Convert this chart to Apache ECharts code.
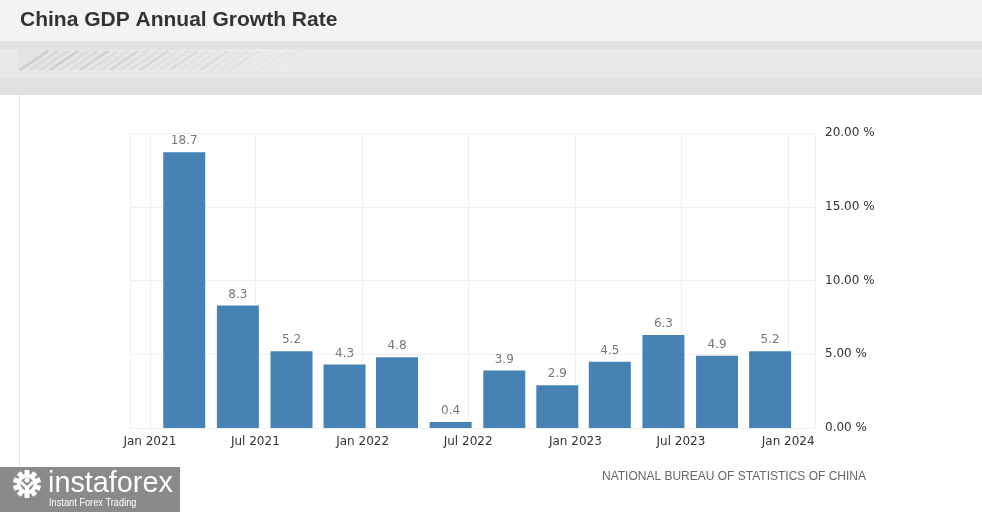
<!DOCTYPE html>
<html>
<head>
<meta charset="utf-8">
<script src="https://cdn.jsdelivr.net/npm/echarts@6/dist/echarts.min.js"></script>
<style>
  html, body { margin: 0; padding: 0; background: #fff; }
  #chart { width: 982px; height: 512px; }
</style>
</head>
<body>
<div id="chart"></div>
<script>
// quarterly readings, placed where the bars sit on the time axis
var quarters = ['2021-03-01', '2021-06-01', '2021-09-01', '2021-12-01',
                '2022-03-01', '2022-06-01', '2022-09-01', '2022-12-01',
                '2023-03-01', '2023-06-01', '2023-09-01', '2023-12-01'];
var growth = [18.7, 8.3, 5.2, 4.3, 4.8, 0.4, 3.9, 2.9, 4.5, 6.3, 4.9, 5.2];
var yTicks = [0, 5, 10, 15, 20];
var monthNames = ['Jan', 'Feb', 'Mar', 'Apr', 'May', 'Jun', 'Jul', 'Aug', 'Sep', 'Oct', 'Nov', 'Dec'];

var DAY = 24 * 3600 * 1000;
// echarts widens a bar axis by half a bar on each side (~36 days here),
// so the range is pulled in by that much: final view ~ late Nov 2020 .. mid Feb 2024
var xMin = Date.UTC(2021, 0, 1) + 2 * DAY;
var xMax = Date.UTC(2024, 0, 1) + 10 * DAY;

var chart = echarts.init(document.getElementById('chart'));

var data = quarters.map(function (q, i) {
  return [q, growth[i]];
});

// soft diagonal streaks in the header strip
var streaks = [];
for (var i = 0; i < 26; i++) {
  var x0 = 20 + i * 10;
  streaks.push({
    type: 'line',
    shape: { x1: x0, y1: 70, x2: x0 + 28, y2: 51 },
    style: { stroke: i % 3 === 0 ? '#c9c9c9' : '#d8d8d8', lineWidth: 2.5, opacity: 0.9 - i / 32 },
    silent: true
  });
}

// gear teeth for the badge
var teeth = [];
for (var k = 0; k < 10; k++) {
  var a = k * Math.PI / 5;
  teeth.push({
    type: 'rect',
    shape: { x: -2.5, y: -14, width: 5, height: 6 },
    x: 27, y: 484, rotation: a,
    style: { fill: '#fff' }, silent: true
  });
}

var option = {
  useUTC: true,
  animation: false,
  backgroundColor: '#ffffff',
  textStyle: { fontFamily: 'DejaVu Sans' },
  grid: { left: 130, right: 167, top: 133, bottom: 84 },
  xAxis: {
    type: 'time',
    min: xMin,
    max: xMax,
    minInterval: 181 * DAY,
    maxInterval: 184 * DAY,
    axisLine: { show: false },
    axisTick: { show: false },
    splitLine: { show: true, lineStyle: { color: '#efefef' } },
    axisLabel: {
      color: '#333',
      fontSize: 12,
      margin: 8,
      showMinLabel: false,
      showMaxLabel: false,
      formatter: function (v) {
        var d = new Date(v);
        return monthNames[d.getUTCMonth()] + ' ' + d.getUTCFullYear();
      }
    }
  },
  yAxis: {
    type: 'value',
    position: 'right',
    min: yTicks[0],
    max: yTicks[yTicks.length - 1],
    interval: 5,
    axisLine: { show: false },
    axisTick: { show: false },
    splitLine: { lineStyle: { color: '#efefef' } },
    axisLabel: {
      color: '#333',
      fontSize: 12,
      margin: 10,
      formatter: function (v) { return v.toFixed(2) + ' %'; }
    }
  },
  series: [{
    type: 'bar',
    data: data,
    barWidth: 42,
    itemStyle: { color: '#4682b4' },
    label: {
      show: true,
      position: 'top',
      distance: 5,
      color: '#777',
      fontSize: 12,
      formatter: function (p) { return p.value[1].toFixed(1); }
    }
  }],
  graphic: [
    { type: 'rect', shape: { x: 0, y: 0, width: 982, height: 41 }, style: { fill: '#f4f4f4' }, silent: true },
    { type: 'rect', shape: { x: 0, y: 41, width: 982, height: 54 }, style: { fill: '#e1e1e1' }, silent: true },
    { type: 'rect', shape: { x: 0, y: 49, width: 982, height: 29 }, style: { fill: '#e9e9e9' }, silent: true },
    {
      type: 'rect', shape: { x: 18, y: 49, width: 270, height: 21 },
      style: {
        fill: new echarts.graphic.LinearGradient(0, 0, 1, 0, [
          { offset: 0, color: '#e4e4e4' }, { offset: 1, color: '#ebebeb' }
        ])
      },
      silent: true
    },
    { type: 'group', children: streaks },
    {
      type: 'text', left: 20, top: 10,
      style: { text: 'China GDP Annual Growth Rate', fill: '#333', font: 'bold 21px "Liberation Sans", Arial, sans-serif' }
    },
    { type: 'line', shape: { x1: 19.5, y1: 95, x2: 19.5, y2: 468 }, style: { stroke: '#e6e6e6', lineWidth: 1 }, silent: true },
    {
      type: 'text', right: 116, top: 471,
      style: { text: 'NATIONAL BUREAU OF STATISTICS OF CHINA', fill: '#666', font: '12px "Liberation Sans", Arial, sans-serif' }
    },
    // instaforex badge
    { type: 'rect', shape: { x: 0, y: 467, width: 180, height: 45 }, style: { fill: '#8a8a8a' }, silent: true },
    { type: 'group', children: teeth },
    { type: 'circle', shape: { cx: 27, cy: 484, r: 10 }, style: { fill: '#fff' }, silent: true },
    { type: 'circle', shape: { cx: 27, cy: 484, r: 6.5 }, style: { fill: '#8a8a8a' }, silent: true },
    { type: 'circle', shape: { cx: 27, cy: 480, r: 2.5 }, style: { fill: '#fff' }, silent: true },
    {
      type: 'polyline',
      shape: { points: [[21, 482], [27, 488], [33, 482]] },
      style: { stroke: '#fff', lineWidth: 3, fill: 'none' }, silent: true
    },
    { type: 'rect', shape: { x: 25, y: 486, width: 4, height: 11 }, style: { fill: '#fff' }, silent: true },
    {
      type: 'text', x: 48, y: 469, scaleX: 0.96,
      style: { text: 'instaforex', fill: '#fff', font: '30px "Liberation Sans", Arial, sans-serif' }
    },
    {
      type: 'text', x: 49, y: 498, scaleX: 0.88,
      style: { text: 'Instant Forex Trading', fill: '#fff', font: '10.5px "Liberation Sans", Arial, sans-serif' }
    }
  ]
};

chart.setOption(option);
</script>
</body>
</html>
